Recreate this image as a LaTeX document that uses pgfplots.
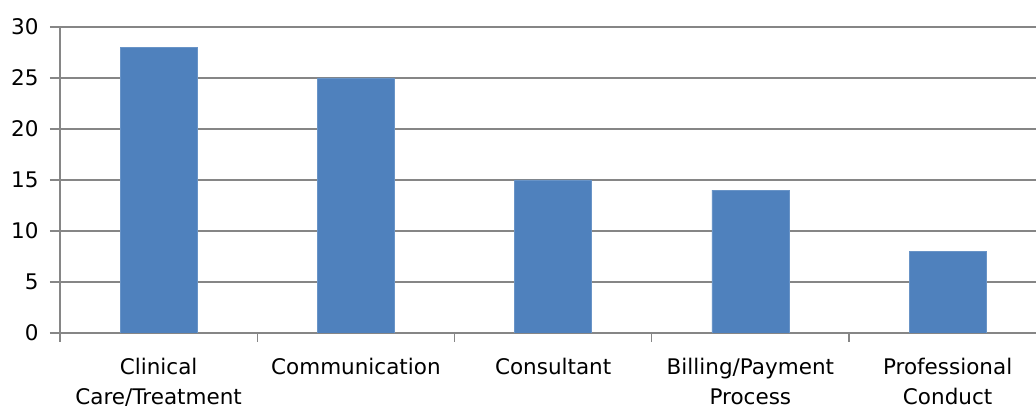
\documentclass[border=0pt]{standalone}
\usepackage{fontspec}
\setmainfont{DejaVu Sans}
\usepackage{pgfplots}
\pgfplotsset{compat=1.18}
\definecolor{barblue}{HTML}{4F81BD}
\definecolor{gridgray}{HTML}{868686}
\begin{document}
\begin{tikzpicture}
\begin{axis}[
  width=976pt, height=306pt, scale only axis,
  xmin=-0.5, xmax=4.448, ymin=0, ymax=30,
  axis x line=bottom, axis y line=left,
  axis line style={-, gridgray, line width=1.4pt},
  ytick={0,5,...,30},
  ymajorgrids, major grid style={gridgray, line width=1.4pt},
  xtick={0,1,2,3,4},
  xticklabels={{Clinical\\Care/Treatment},{Communication},{Consultant},{Billing/Payment\\Process},{Professional\\Conduct}},
  xticklabel style={align=center, yshift=-12pt, anchor=north},
  major x tick style={draw=none},
  minor xtick={-0.5,0.5,1.5,2.5,3.5},
  minor x tick style={gridgray, line width=1.4pt},
  ytick style={gridgray, line width=1.4pt},
  tick align=outside, major tick length=10pt, minor tick length=9pt,
  tick label style={font=\fontsize{21.5}{30}\selectfont},
  /pgf/number format/assume math mode=true,
  yticklabel style={xshift=-8pt},
]
\addplot[ybar, bar width=0.39, fill=barblue, draw=barblue!85!white] coordinates {
  (0,28) (1,25) (2,15) (3,14) (4,8)
};
\coordinate (tl) at (rel axis cs:0,1);
\coordinate (br) at (rel axis cs:1,0);
\end{axis}
\pgfresetboundingbox
\path[use as bounding box] ([shift={(-60pt,27pt)}]tl) rectangle ([shift={(0pt,-77pt)}]br);
\end{tikzpicture}
\end{document}
